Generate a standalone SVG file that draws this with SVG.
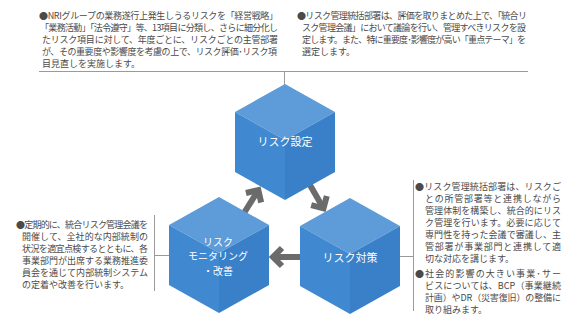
<svg xmlns="http://www.w3.org/2000/svg" width="568" height="329" viewBox="0 0 568 329">
<defs>
<style>
.t{font-family:"Noto Sans CJK JP","Noto Sans",sans-serif;font-size:9px;fill:#4a4a4a}
.c{font-family:"Noto Sans CJK JP","Noto Sans",sans-serif;font-size:11px;fill:#ffffff;text-anchor:middle}
.c2{font-size:10px}
.ln{stroke:#9a9a9a;stroke-width:1;fill:none}
.top{fill:#5d9cd9}
.lf{fill:#4089d1}
.rt{fill:#3a80c8}
.ar{stroke:#6b6b6b;stroke-width:6;fill:none;stroke-linejoin:miter}
</style>
<g id="cube">
<polygon class="top" points="0,0 50,28 0,56 -50,28"/>
<polygon class="lf" points="-50,28 0,56 0,116 -50,88"/>
<polygon class="rt" points="0,56 50,28 50,88 0,116"/>
</g>
<g id="arrow">
<line x1="0" y1="0" x2="25" y2="0"/>
<polyline points="18,-9 27,0 18,9"/>
</g>
</defs>
<rect width="568" height="329" fill="#ffffff"/>

<g id="connectors">
<line class="ln" x1="39" y1="71.5" x2="528" y2="71.5"/>
<line class="ln" x1="284.5" y1="71.5" x2="284.5" y2="86"/>
<line class="ln" x1="154.5" y1="215" x2="154.5" y2="291"/>
<line class="ln" x1="154.5" y1="255.5" x2="170" y2="255.5"/>
<line class="ln" x1="413.5" y1="180" x2="413.5" y2="311"/>
<line class="ln" x1="400" y1="256.5" x2="413.5" y2="256.5"/>
<use href="#arrow" class="ar" transform="translate(244,213) rotate(-58)"/>
<use href="#arrow" class="ar" transform="translate(310,185) rotate(60)"/>
<use href="#arrow" class="ar" transform="translate(300,257) rotate(180)"/>
</g>

<g id="node-risk-setting">
<use href="#cube" transform="translate(285,84)"/>
<text class="c" x="285" y="146">リスク設定</text>
</g>
<g id="node-risk-monitoring">
<use href="#cube" transform="translate(219,197)"/>
<text class="c c2" x="218" y="245.5">リスク</text>
<text class="c c2" x="218" y="260">モニタリング</text>
<text class="c c2" x="218" y="274.5">・改善</text>
</g>
<g id="node-risk-response">
<use href="#cube" transform="translate(350,198)"/>
<text class="c" x="350" y="262">リスク対策</text>
</g>

<g id="note-top-left">
<text class="t" x="39" y="19" textLength="239" lengthAdjust="spacing">●NRIグループの業務遂行上発生しうるリスクを「経営戦略」</text>
<text class="t" x="40" y="31" textLength="238" lengthAdjust="spacing">「業務活動」「法令遵守」等、13項目に分類し、さらに細分化し</text>
<text class="t" x="42" y="43" textLength="236" lengthAdjust="spacing">たリスク項目に対して、年度ごとに、リスクごとの主管部署</text>
<text class="t" x="42" y="55" textLength="235" lengthAdjust="spacing">が、その重要度や影響度を考慮の上で、リスク評価･リスク項</text>
<text class="t" x="42" y="67">目見直しを実施します。</text>
</g>

<g id="note-top-right">
<text class="t" x="297" y="19" textLength="230" lengthAdjust="spacing">●リスク管理統括部署は、評価を取りまとめた上で、「統合リ</text>
<text class="t" x="302" y="31" textLength="224" lengthAdjust="spacing">スク管理会議」において議論を行い、管理すべきリスクを設</text>
<text class="t" x="302" y="43" textLength="224" lengthAdjust="spacing">定します。また、特に重要度･影響度が高い「重点テーマ」を</text>
<text class="t" x="302" y="55">選定します。</text>
</g>

<g id="note-left">
<text class="t" x="16" y="228" textLength="132" lengthAdjust="spacing">●定期的に、統合リスク管理会議を</text>
<text class="t" x="22" y="240" textLength="126" lengthAdjust="spacing">開催して、全社的な内部統制の</text>
<text class="t" x="22" y="252" textLength="126" lengthAdjust="spacing">状況を適宜点検するとともに、各</text>
<text class="t" x="22" y="264" textLength="126" lengthAdjust="spacing">事業部門が出席する業務推進委</text>
<text class="t" x="22" y="276" textLength="126" lengthAdjust="spacing">員会を通じて内部統制システム</text>
<text class="t" x="22" y="288">の定着や改善を行います。</text>
</g>

<g id="note-right">
<text class="t" x="415" y="190" textLength="146" lengthAdjust="spacing">●リスク管理統括部署は、リスクご</text>
<text class="t" x="425" y="202" textLength="136" lengthAdjust="spacing">との所管部署等と連携しながら</text>
<text class="t" x="425" y="214" textLength="136" lengthAdjust="spacing">管理体制を構築し、統合的にリス</text>
<text class="t" x="425" y="226" textLength="136" lengthAdjust="spacing">ク管理を行います。必要に応じて</text>
<text class="t" x="425" y="238" textLength="136" lengthAdjust="spacing">専門性を持った会議で審議し、主</text>
<text class="t" x="425" y="250" textLength="136" lengthAdjust="spacing">管部署が事業部門と連携して適</text>
<text class="t" x="425" y="262">切な対応を講じます。</text>
<text class="t" x="415" y="277" textLength="146" lengthAdjust="spacing">●社会的影響の大きい事業･サー</text>
<text class="t" x="425" y="289" textLength="136" lengthAdjust="spacing">ビスについては、BCP（事業継続</text>
<text class="t" x="425" y="301" textLength="136" lengthAdjust="spacing">計画）やDR（災害復旧）の整備に</text>
<text class="t" x="425" y="313">取り組みます。</text>
</g>
</svg>
